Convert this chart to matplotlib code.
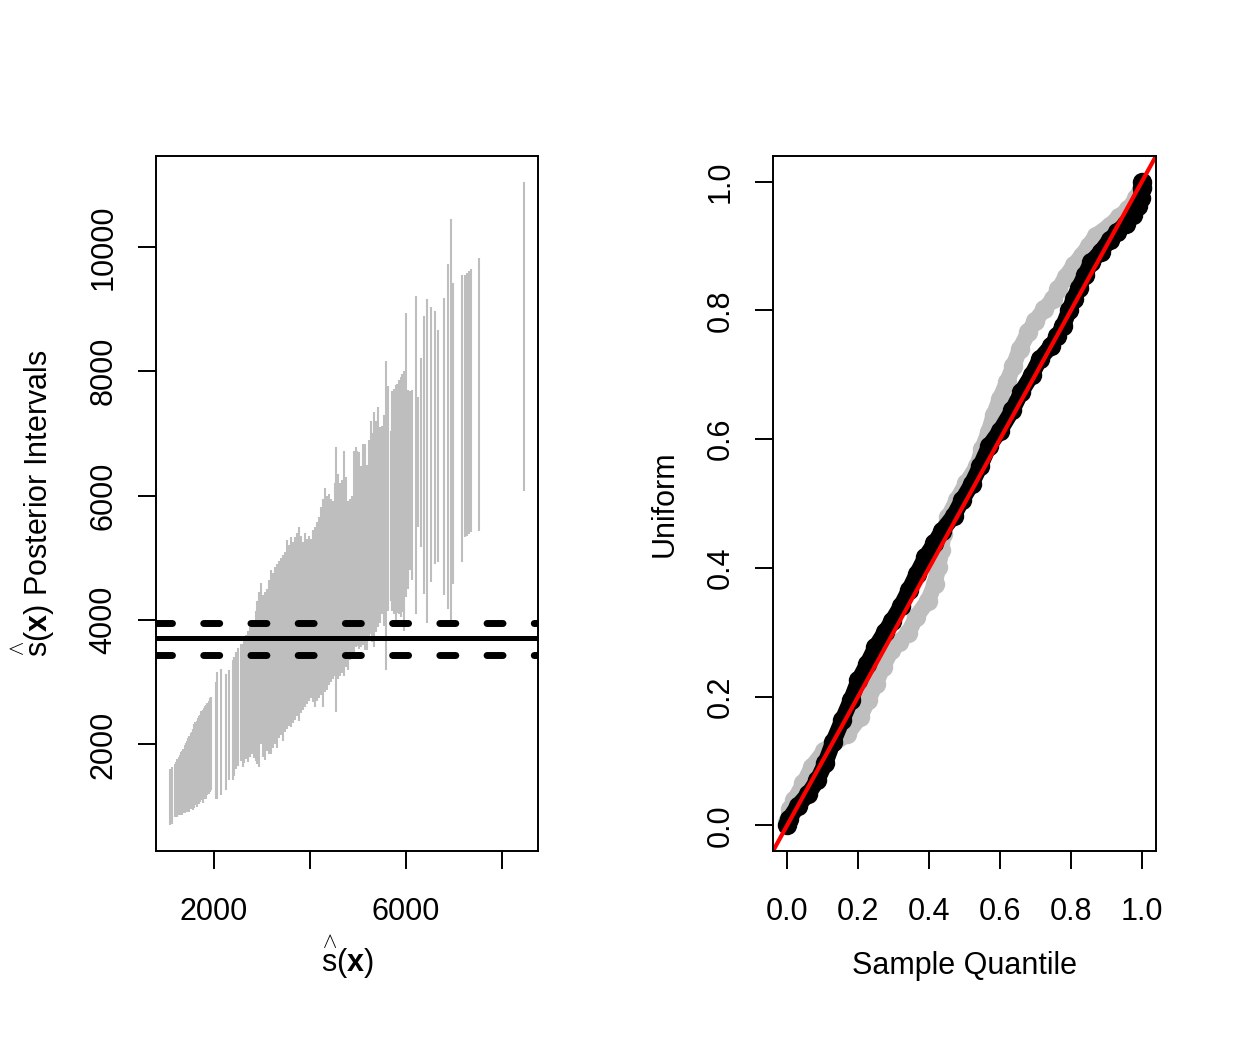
import numpy as np
import matplotlib
matplotlib.use('Agg')
import matplotlib.pyplot as plt

plt.rcParams['font.family'] = ['Liberation Sans', 'DejaVu Sans']
plt.rcParams['mathtext.fontset'] = 'custom'
plt.rcParams['mathtext.rm'] = 'Liberation Sans'
plt.rcParams['mathtext.bf'] = 'Liberation Sans:bold'
plt.rcParams['mathtext.it'] = 'Liberation Sans:italic'

# left panel: posterior intervals of s-hat(x), one vertical segment per observation
seg_x = [1090, 1135, 1190, 1215, 1240, 1265, 1290, 1315, 1340, 1365, 1390, 1415, 1440, 1465, 1490, 1515,
         1540, 1565, 1590, 1615, 1640, 1665, 1690, 1715, 1740, 1765, 1790, 1815, 1840, 1865, 1890, 1915, 1937,
         2042, 2077, 2146, 2250, 2320, 2390, 2430, 2470, 2510, 2560, 2600, 2640, 2680, 2720, 2760, 2800,
         2840, 2875, 2910, 2945,
         2979, 3021, 3062, 3104, 3146, 3187, 3229, 3270, 3312, 3354, 3396, 3437, 3479, 3520, 3562, 3604,
         3645, 3687, 3729, 3770, 3812, 3854, 3895, 3937, 3978, 4020, 4062, 4103, 4145, 4187, 4228, 4270,
         4312, 4353, 4395, 4437, 4478, 4520, 4548, 4590, 4631, 4673, 4714, 4756, 4798, 4839, 4881, 4922,
         4958, 4993, 5027, 5062, 5111, 5152, 5201, 5236, 5270, 5305, 5340, 5388, 5430, 5472, 5513, 5548,
         5583, 5638, 5687, 5721, 5756, 5791, 5826, 5860, 5895, 5930, 5964, 6013, 6048, 6082, 6138, 6207,
         6256, 6311, 6381, 6450,
         6534, 6603, 6673, 6798, 6881, 6951, 6985, 7173, 7242, 7284, 7326, 7360, 7534, 8464]
seg_lo = [700, 720, 830, 850, 840, 870, 860, 880, 870, 900, 890, 920, 910, 940, 920, 960,
          990, 950, 970, 1020, 1000, 1060, 1040, 1080, 1110, 1060, 1120, 1150, 1130, 1180, 1200, 1230, 1260,
          1130, 1130, 1180, 1260, 1420, 1420, 1500, 1600, 1650, 1740, 1640, 1700, 1760, 1720, 1800, 1850,
          1780, 1740, 1680, 1640,
          2000, 1800, 1750, 1900, 1850, 1850, 1950, 2000, 1950, 2100, 2150, 2060, 2200, 2250, 2300, 2280,
          2350, 2400, 2450, 2380, 2500, 2550, 2600, 2650, 2700, 2750, 2680, 2600, 2700, 2750, 2800, 2600,
          2850, 2870, 2950, 3000, 3050, 3100, 2520, 3050, 3100, 3150, 3100, 3250, 3200, 3350, 3400, 3380,
          3560, 3580, 3540, 3560, 3600, 3520, 3510, 3700, 3780, 3650, 3560, 3800, 3880, 3950, 4100, 3900,
          3190, 4150, 4310, 4150, 4100, 3880, 4120, 4100, 4050, 4130, 3830, 4370, 4500, 4800, 4650, 4100,
          5490, 5170, 4420, 3960,
          4610, 4907, 4928, 4400, 4180, 3985, 4573, 4928, 5329, 5355, 5383, 5410, 5437, 6079]
seg_hi = [1610, 1640, 1680, 1720, 1760, 1800, 1830, 1870, 1900, 1930, 1990, 2030, 2060, 2100, 2140, 2180,
          2200, 2250, 2330, 2360, 2380, 2420, 2460, 2480, 2530, 2560, 2580, 2620, 2640, 2660, 2700, 2740, 2760,
          3000, 3160, 3215, 3135, 3190, 3350, 3400, 3480, 3550, 3620, 3620, 3700, 3760, 3830, 3880, 3940,
          3900, 4150, 4300, 4450,
          4600, 4400, 4450, 4500, 4650, 4800, 4750, 4850, 4900, 4950, 5000, 5040, 5100, 5280, 5200, 5330,
          5250, 5330, 5400, 5500, 5350, 5250, 5400, 5300, 5350, 5300, 5450, 5500, 5570, 5650, 5810, 5950,
          6130, 6000, 6030, 5950, 5920, 6200, 6775, 6350, 6200, 6250, 6720, 6300, 5920, 5950, 6000, 6720,
          6775, 6720, 6700, 6480, 6830, 6830, 6500, 6900, 7200, 7000, 7340, 7200, 7420, 7100, 7120, 7300,
          8170, 7760, 7040, 7680, 7720, 7780, 7800, 7860, 7900, 7950, 8000, 8940, 7700, 7690, 7700, 9210,
          7580, 8220, 8890, 9160,
          9034, 8970, 8665, 9184, 9730, 10453, 9425, 9544, 9550, 9585, 9612, 9640, 9817, 11047]

observed_mid = 3703
observed_band = [3960, 3430]

left_xticks = [2000, 4000, 6000, 8000]
left_xlabels = ['2000', '', '6000', '']
left_yticks = [2000, 4000, 6000, 8000, 10000]

# right panel: uniform quantiles vs sorted sample quantiles
grey_x = [0.0, 0.008, 0.02, 0.046, 0.07, 0.105, 0.17, 0.205, 0.228, 0.25, 0.27, 0.294, 0.315, 0.341,
          0.364, 0.397, 0.416, 0.426, 0.435, 0.44, 0.454, 0.478, 0.505, 0.536, 0.55, 0.568, 0.582, 0.60,
          0.62, 0.638, 0.656, 0.68, 0.70, 0.725, 0.75, 0.765, 0.785, 0.808, 0.83, 0.85, 0.87, 0.91,
          0.935, 0.962, 0.985, 1.0]
grey_y = [0.005, 0.025, 0.039, 0.065, 0.091, 0.116, 0.142, 0.168, 0.194, 0.22, 0.246, 0.272, 0.285, 0.298,
          0.324, 0.349, 0.375, 0.401, 0.427, 0.453, 0.479, 0.505, 0.532, 0.559, 0.585, 0.611, 0.637, 0.663,
          0.689, 0.714, 0.74, 0.766, 0.784, 0.802, 0.818, 0.833, 0.852, 0.87, 0.885, 0.90, 0.916, 0.932,
          0.945, 0.958, 0.975, 0.994]
black_x = [0.0, 0.006, 0.03, 0.06, 0.085, 0.107, 0.13, 0.155, 0.18, 0.201, 0.225, 0.249, 0.275, 0.296,
           0.32, 0.343, 0.365, 0.39, 0.415, 0.437, 0.47, 0.493, 0.52, 0.545, 0.57, 0.60, 0.635, 0.66,
           0.69, 0.713, 0.745, 0.762, 0.778, 0.795, 0.808, 0.822, 0.84, 0.857, 0.884, 0.91, 0.931, 0.955,
           0.974, 0.99, 0.997, 1.0, 1.0]
black_y = [0.0, 0.01, 0.03, 0.049, 0.07, 0.096, 0.13, 0.163, 0.195, 0.225, 0.25, 0.277, 0.30, 0.318,
           0.34, 0.365, 0.39, 0.417, 0.438, 0.458, 0.481, 0.505, 0.53, 0.559, 0.59, 0.613, 0.645, 0.673,
           0.70, 0.725, 0.745, 0.76, 0.776, 0.80, 0.818, 0.835, 0.855, 0.875, 0.891, 0.91, 0.922, 0.935,
           0.948, 0.962, 0.974, 0.99, 1.0]

unit_ticks = [0.0, 0.2, 0.4, 0.6, 0.8, 1.0]
unit_labels = ['0.0', '0.2', '0.4', '0.6', '0.8', '1.0']

GREY = '#BEBEBE'
FS = 22
SHAT = r'\overset{\wedge}{\mathrm{s}}(\mathbf{x})'


def r_limits(vals):
    lo, hi = min(vals), max(vals)
    pad = 0.04 * (hi - lo)
    return lo - pad, hi + pad


def style(ax):
    for s in ax.spines.values():
        s.set_linewidth(1.4)
    ax.tick_params(length=13, width=1.4, labelsize=FS)
    ax.tick_params(axis='x', pad=20)
    ax.tick_params(axis='y', pad=14, labelrotation=90)
    plt.setp(ax.get_yticklabels(), va='center')


fig = plt.figure(figsize=(12.35, 10.45), dpi=100)
ax1 = fig.add_axes([156 / 1235, 194 / 1045, 382 / 1235, 695 / 1045])
ax2 = fig.add_axes([773 / 1235, 194 / 1045, 383 / 1235, 695 / 1045])

# left
ax1.vlines(seg_x, seg_lo, seg_hi, colors=GREY, linewidth=1.5)
ax1.axhline(observed_mid, color='black', lw=3.6)
for v in observed_band:
    ax1.axhline(v, color='black', lw=5, dashes=(2.3, 4.5), dash_capstyle='round')
ax1.set_xlim(*r_limits(seg_x))
ax1.set_ylim(*r_limits(seg_lo + seg_hi))
ax1.set_xticks(left_xticks)
ax1.set_xticklabels(left_xlabels)
ax1.set_yticks(left_yticks)
ax1.set_yticklabels([str(t) for t in left_yticks])
style(ax1)
ax1.set_xlabel('$' + SHAT + '$', fontsize=FS)
ax1.xaxis.set_label_coords(0.5, -0.118)
ax1.set_ylabel('$' + SHAT + '$ Posterior Intervals', fontsize=FS)
ax1.yaxis.set_label_coords(-0.2565, 0.5)

# right
ax2.plot(grey_x, grey_y, color=GREY, lw=11.5, marker='o', ms=14, mew=0,
         solid_joinstyle='round', solid_capstyle='round')
ax2.plot(black_x, black_y, color='black', lw=11.5, marker='o', ms=14, mew=0,
         solid_joinstyle='round', solid_capstyle='round')
ax2.axline((0, 0), slope=1, color='red', lw=3)
ax2.set_xlim(-0.04, 1.04)
ax2.set_ylim(-0.04, 1.04)
ax2.set_xticks(unit_ticks)
ax2.set_xticklabels(unit_labels)
ax2.set_yticks(unit_ticks)
ax2.set_yticklabels(unit_labels)
style(ax2)
ax2.set_xlabel('Sample Quantile', fontsize=FS)
ax2.xaxis.set_label_coords(0.5, -0.144)
ax2.set_ylabel('Uniform', fontsize=FS)
ax2.yaxis.set_label_coords(-0.245, 0.5)

fig.savefig('out.png', dpi=100, facecolor='white')
